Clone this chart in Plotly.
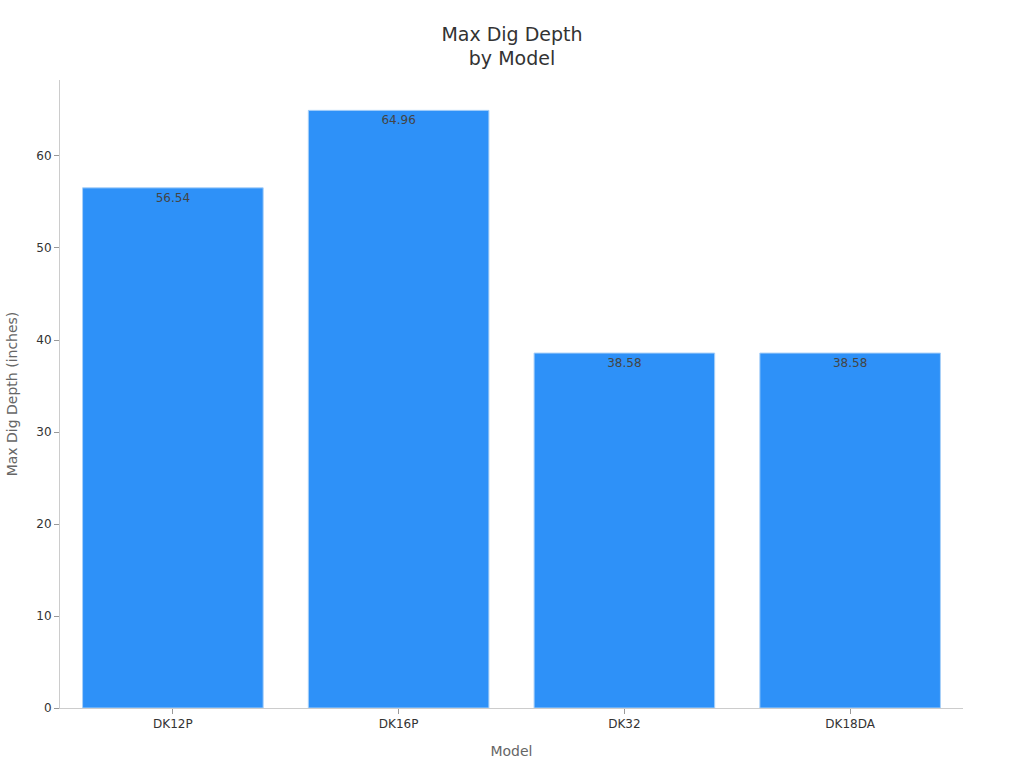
import plotly.graph_objs as go

models = ["DK12P", "DK16P", "DK32", "DK18DA"]
depths = [56.54, 64.96, 38.58, 38.58]


def create_graph(models, depths):
    bars = go.Bar(x=models,
                  y=depths,
                  text=[f"{v:.2f}" for v in depths],
                  textposition="inside",
                  insidetextanchor="end",
                  textfont={"color": "#444444", "size": 12},
                  marker={"color": "#2E91F8",
                          "line": {"color": "#A9D0F8", "width": 1}})

    layout = {
        "title": {"text": "Max Dig Depth<br>by Model", "x": 0.5, "xanchor": "center",
                  "y": 0.947, "font": {"size": 19, "color": "#333333"}},
        "font": {"family": "DejaVu Sans", "size": 12, "color": "#333333"},
        "plot_bgcolor": "white",
        "paper_bgcolor": "white",
        "width": 1024,
        "height": 768,
        "margin": {"l": 60, "r": 61, "t": 80, "b": 60},
        "bargap": 0.2,
        "xaxis": {"title": {"text": "Model", "font": {"size": 14, "color": "#666666"}},
                  "showline": True, "linecolor": "#CCCCCC", "ticks": "outside",
                  "tickcolor": "#999999", "ticklen": 5, "showgrid": False},
        "yaxis": {"title": {"text": "Max Dig Depth (inches)", "font": {"size": 14, "color": "#666666"}},
                  "showline": True, "linecolor": "#CCCCCC", "ticks": "outside",
                  "tickcolor": "#999999", "ticklen": 5, "showgrid": False,
                  "zeroline": False, "range": [0, 68.26]},
    }
    fig = go.Figure(data=[bars], layout=layout)
    # drop the default body margin so the chart sits at the window's corner
    fig.write_html("out.html", config={"displayModeBar": False},
                   post_script="document.body.style.margin = '0';")


if __name__ == "__main__":
    create_graph(models, depths)
